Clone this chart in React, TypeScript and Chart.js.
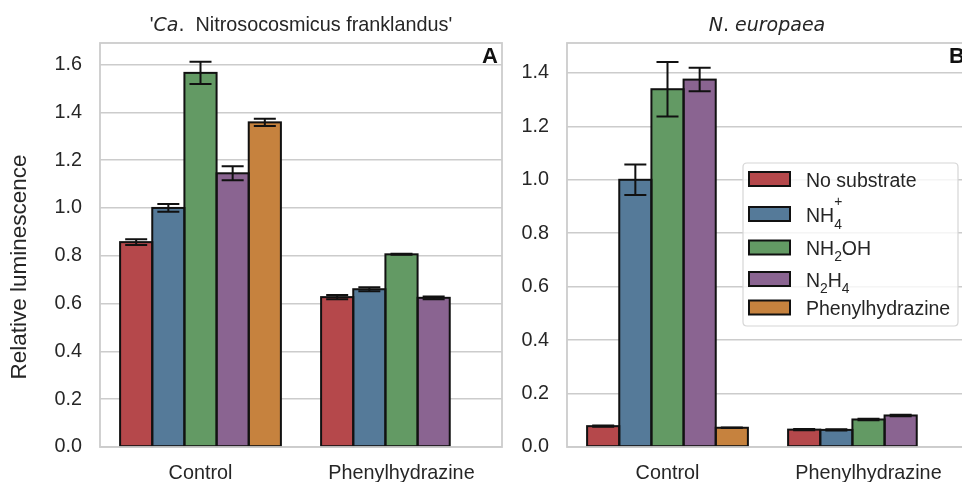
import React, { useEffect, useRef } from "react";
import { Chart, registerables } from "chart.js";
Chart.register(...registerables);

// ---------- data ----------
const categories = ["Control", "Phenylhydrazine"];
const seriesNames = ["No substrate", "NH4+", "NH2OH", "N2H4", "Phenylhydrazine"];
const seriesColors = ["#b5484b", "#557a99", "#639a64", "#8a6491", "#c6823e"];

// Panel A: 'Ca. Nitrosocosmicus franklandus'
const aNoSubstrate = [0.857, 0.627];
const aNH4 = [1.0, 0.66];
const aNH2OH = [1.565, 0.806];
const aN2H4 = [1.145, 0.624];
const aPhenyl = [1.358, null];
const aErrNoSubstrate = [0.012, 0.009];
const aErrNH4 = [0.016, 0.008];
const aErrNH2OH = [0.047, 0.002];
const aErrN2H4 = [0.029, 0.006];
const aErrPhenyl = [0.015, null];

// Panel B: N. europaea
const bNoSubstrate = [0.078, 0.065];
const bNH4 = [1.0, 0.064];
const bNH2OH = [1.339, 0.103];
const bN2H4 = [1.375, 0.118];
const bPhenyl = [0.072, null];
const bErrNoSubstrate = [0.002, 0.002];
const bErrNH4 = [0.057, 0.002];
const bErrNH2OH = [0.102, 0.003];
const bErrN2H4 = [0.044, 0.003];
const bErrPhenyl = [0.001, null];

const yTicksA = [0, 0.2, 0.4, 0.6, 0.8, 1.0, 1.2, 1.4, 1.6];
const yTicksB = [0, 0.2, 0.4, 0.6, 0.8, 1.0, 1.2, 1.4];
const yMaxA = 1.69;
const yMaxB = 1.512;

const SANS = "'Liberation Sans', Arial, sans-serif";
const MATH = "'DejaVu Sans', sans-serif";
const TEXT = "#262626";
const GRID = "#cccccc";
const FS = 19.8;

type Seg = { t: string; font: string; dy?: number; stackWith?: boolean };

function drawSegs(ctx: CanvasRenderingContext2D, segs: Seg[], x: number, y: number, align: "left" | "center") {
  ctx.save();
  ctx.textBaseline = "alphabetic";
  ctx.textAlign = "left";
  let total = 0;
  let prevW = 0;
  const xs: number[] = [];
  for (const s of segs) {
    ctx.font = s.font;
    const w = ctx.measureText(s.t).width;
    if (s.stackWith) {
      xs.push(total - prevW);
      const extra = Math.max(0, w - prevW);
      total += extra;
    } else {
      xs.push(total);
      total += w;
      prevW = w;
    }
  }
  const x0 = align === "center" ? x - total / 2 : x;
  segs.forEach((s, i) => {
    ctx.font = s.font;
    ctx.fillStyle = TEXT;
    ctx.fillText(s.t, x0 + xs[i], y + (s.dy || 0));
  });
  ctx.restore();
}

function makePanelPlugin(cfg: {
  errs: (number | null)[][];
  letter: string;
  title: Seg[];
  titleX: number;
  ylabel?: boolean;
  legend?: { left: number; top: number; right: number; bottom: number };
  offsetX: number;
}) {
  return {
    id: "panelDecor" + cfg.letter,
    afterDatasetsDraw(chart: any) {
      const ctx: CanvasRenderingContext2D = chart.ctx;
      const yScale = chart.scales.y;
      const area = chart.chartArea;
      ctx.save();
      chart.data.datasets.forEach((ds: any, di: number) => {
        const meta = chart.getDatasetMeta(di);
        meta.data.forEach((el: any, j: number) => {
          const v = ds.data[j];
          if (v === null || v === undefined) return;
          const p = el.getProps(["x", "y", "base", "width"], true);
          ctx.strokeStyle = "#111111";
          ctx.lineWidth = 2;
          ctx.strokeRect(p.x - p.width / 2, p.y, p.width, p.base - p.y);
        });
      });
      chart.data.datasets.forEach((ds: any, di: number) => {
        const meta = chart.getDatasetMeta(di);
        meta.data.forEach((el: any, j: number) => {
          const v = ds.data[j];
          const e = cfg.errs[di][j];
          if (v === null || v === undefined || e === null || e === undefined) return;
          const p = el.getProps(["x"], true);
          const yt = yScale.getPixelForValue(v + e);
          const yb = yScale.getPixelForValue(v - e);
          ctx.strokeStyle = "#111111";
          ctx.lineWidth = 2;
          ctx.beginPath();
          ctx.moveTo(p.x, yt);
          ctx.lineTo(p.x, yb);
          ctx.moveTo(p.x - 11, yt);
          ctx.lineTo(p.x + 11, yt);
          ctx.moveTo(p.x - 11, yb);
          ctx.lineTo(p.x + 11, yb);
          ctx.stroke();
        });
      });
      ctx.strokeStyle = GRID;
      ctx.lineWidth = 1.8;
      ctx.strokeRect(area.left, area.top, area.right - area.left, area.bottom - area.top);
      ctx.restore();
    },
    afterDraw(chart: any) {
      const ctx: CanvasRenderingContext2D = chart.ctx;
      const area = chart.chartArea;
      ctx.save();
      ctx.font = `bold 22px ${SANS}`;
      ctx.fillStyle = "#111111";
      ctx.textAlign = "right";
      ctx.textBaseline = "alphabetic";
      ctx.fillText(cfg.letter, area.right - 4, 63);
      ctx.restore();
      drawSegs(ctx, cfg.title, cfg.titleX - cfg.offsetX, 31, "center");
      if (cfg.ylabel) {
        ctx.save();
        ctx.translate(20, 267);
        ctx.rotate(-Math.PI / 2);
        ctx.font = `22.5px ${SANS}`;
        ctx.fillStyle = TEXT;
        ctx.textAlign = "center";
        ctx.textBaseline = "middle";
        ctx.fillText("Relative luminescence", 0, 0);
        ctx.restore();
      }
      if (cfg.legend) {
        const L = cfg.legend;
        const ox = cfg.offsetX;
        ctx.save();
        const r = 4;
        const lx = L.left - ox, ty = L.top, w = L.right - L.left, h = L.bottom - L.top;
        ctx.beginPath();
        ctx.moveTo(lx + r, ty);
        ctx.lineTo(lx + w - r, ty);
        ctx.quadraticCurveTo(lx + w, ty, lx + w, ty + r);
        ctx.lineTo(lx + w, ty + h - r);
        ctx.quadraticCurveTo(lx + w, ty + h, lx + w - r, ty + h);
        ctx.lineTo(lx + r, ty + h);
        ctx.quadraticCurveTo(lx, ty + h, lx, ty + h - r);
        ctx.lineTo(lx, ty + r);
        ctx.quadraticCurveTo(lx, ty, lx + r, ty);
        ctx.closePath();
        ctx.fillStyle = "rgba(255,255,255,0.8)";
        ctx.fill();
        ctx.strokeStyle = "#d6d6d6";
        ctx.lineWidth = 1.2;
        ctx.stroke();
        const centers = [179, 214, 247.5, 279, 307.5];
        const main = `${FS * 0.985}px ${SANS}`;
        const small = `${FS * 0.7}px ${SANS}`;
        const labels: Seg[][] = [
          [{ t: "No substrate", font: main }],
          [
            { t: "NH", font: main },
            { t: "4", font: small, dy: 7 },
            { t: "+", font: small, dy: -16, stackWith: true },
          ],
          [
            { t: "NH", font: main },
            { t: "2", font: small, dy: 6 },
            { t: "OH", font: main },
          ],
          [
            { t: "N", font: main },
            { t: "2", font: small, dy: 6 },
            { t: "H", font: main },
            { t: "4", font: small, dy: 6 },
          ],
          [{ t: "Phenylhydrazine", font: main }],
        ];
        seriesNames.forEach((_, i) => {
          const c = centers[i];
          ctx.fillStyle = seriesColors[i];
          ctx.fillRect(749 - ox, c - 7, 41, 14);
          ctx.strokeStyle = "#111111";
          ctx.lineWidth = 2;
          ctx.strokeRect(749 - ox, c - 7, 41, 14);
          drawSegs(ctx, labels[i], 806 - ox, c + 7.5, "left");
        });
        ctx.restore();
      }
    },
  };
}

function buildConfig(
  values: (number | null)[][],
  yTicks: number[],
  yMax: number,
  yAxisWidth: number,
  rightPad: number,
  plugin: any
) {
  return {
    type: "bar" as const,
    data: {
      labels: categories,
      datasets: values.map((d, i) => ({
        label: seriesNames[i],
        data: d,
        backgroundColor: seriesColors[i],
        borderWidth: 0,
        categoryPercentage: 0.8,
        barPercentage: 1.0,
      })),
    },
    options: {
      responsive: false,
      animation: false as const,
      events: [],
      layout: { padding: { top: 43, right: rightPad, left: 0, bottom: 0 } },
      plugins: { legend: { display: false }, title: { display: false }, tooltip: { enabled: false } },
      scales: {
        x: {
          grid: { display: false, drawTicks: false },
          border: { display: false },
          ticks: { color: TEXT, font: { family: SANS, size: FS }, padding: 15, maxRotation: 0 },
          afterFit: (s: any) => {
            s.height = 35;
          },
        },
        y: {
          min: 0,
          max: yMax,
          grid: { color: GRID, lineWidth: 1.6, drawTicks: false },
          border: { display: false },
          ticks: {
            color: TEXT,
            font: { family: SANS, size: FS },
            padding: 18,
            callback: (v: any) => Number(v).toFixed(1),
          },
          afterBuildTicks: (s: any) => {
            s.ticks = yTicks.map((v) => ({ value: v }));
          },
          afterFit: (s: any) => {
            s.width = yAxisWidth;
          },
        },
      },
    },
    plugins: [plugin],
  };
}

function Panel(props: { left: number; width: number; config: any }) {
  const ref = useRef<HTMLCanvasElement>(null);
  useEffect(() => {
    if (!ref.current) return;
    const chart = new Chart(ref.current, props.config);
    return () => chart.destroy();
  }, []);
  return (
    <canvas
      ref={ref}
      width={props.width}
      height={482}
      style={{ position: "absolute", left: props.left, top: 0, width: props.width, height: 482 }}
    />
  );
}

export default function App() {
  const aValues = [aNoSubstrate, aNH4, aNH2OH, aN2H4, aPhenyl];
  const aErrs = [aErrNoSubstrate, aErrNH4, aErrNH2OH, aErrN2H4, aErrPhenyl];
  const bValues = [bNoSubstrate, bNH4, bNH2OH, bN2H4, bPhenyl];
  const bErrs = [bErrNoSubstrate, bErrNH4, bErrNH2OH, bErrN2H4, bErrPhenyl];

  const titleFont = `${FS}px ${SANS}`;
  const mathFont = `italic ${FS * 0.96}px ${MATH}`;

  const pluginA = makePanelPlugin({
    errs: aErrs,
    letter: "A",
    title: [
      { t: "'", font: titleFont },
      { t: "Ca", font: mathFont },
      { t: ".", font: `${FS * 0.96}px ${MATH}` },
      { t: "  Nitrosocosmicus franklandus'", font: titleFont },
    ],
    titleX: 301,
    ylabel: true,
    offsetX: 0,
  });
  const pluginB = makePanelPlugin({
    errs: bErrs,
    letter: "B",
    title: [
      { t: "N", font: mathFont },
      { t: ".", font: `${FS * 0.96}px ${MATH}` },
      { t: " europaea", font: mathFont },
    ],
    titleX: 767,
    legend: { left: 743, top: 163, right: 958, bottom: 326 },
    offsetX: 520,
  });

  const cfgA = buildConfig(aValues, yTicksA, yMaxA, 100, 18, pluginA);
  const cfgB = buildConfig(bValues, yTicksB, yMaxB, 47, 11, pluginB);

  return (
    <div
      style={{
        position: "fixed",
        left: 0,
        top: 0,
        width: 962,
        height: 482,
        overflow: "hidden",
        background: "#ffffff",
      }}
    >
      <Panel left={0} width={520} config={cfgA} />
      <Panel left={520} width={460} config={cfgB} />
    </div>
  );
}
